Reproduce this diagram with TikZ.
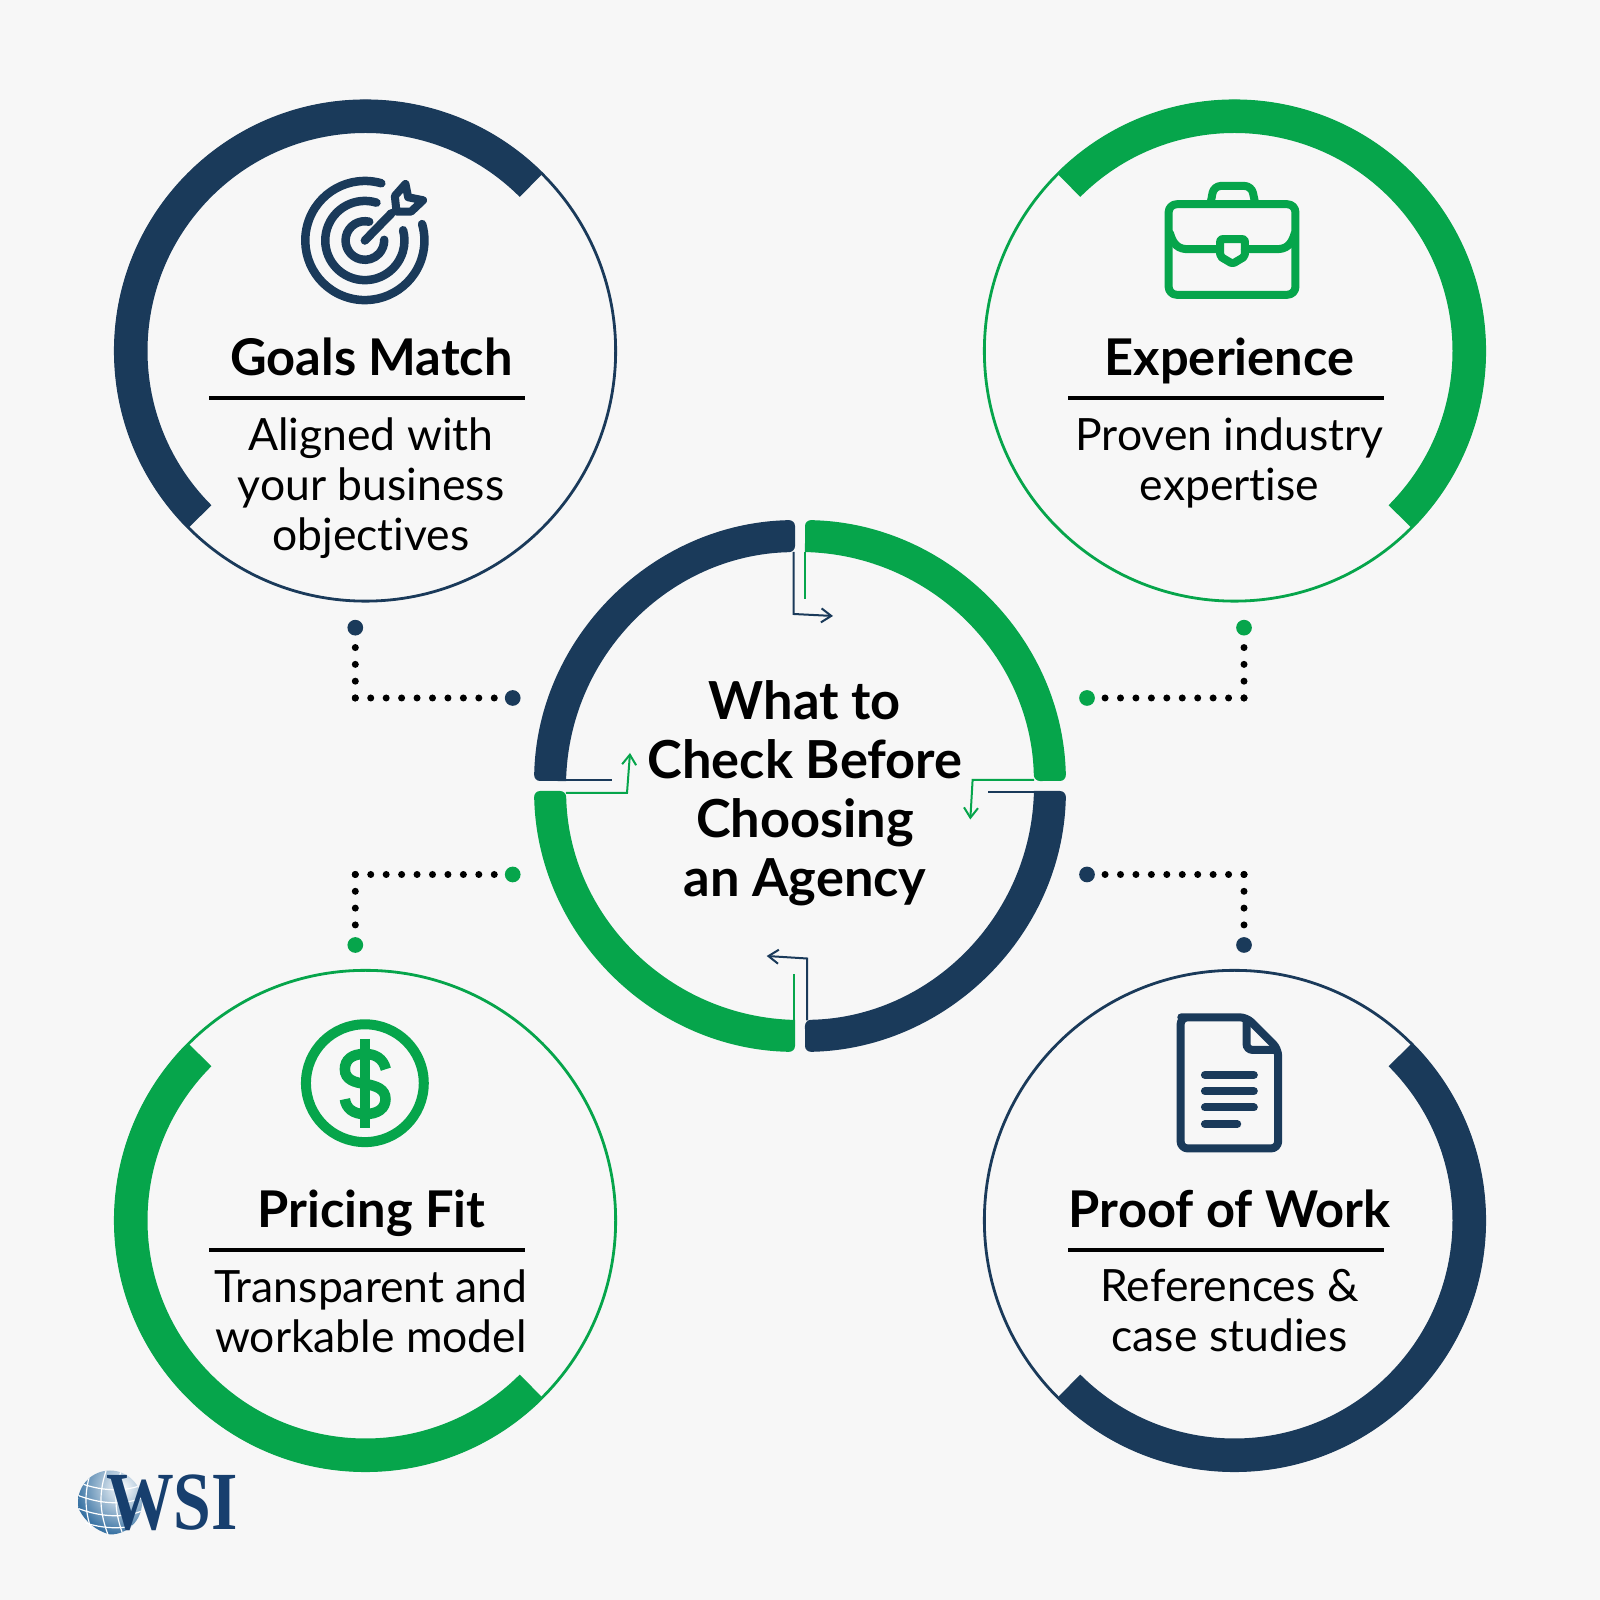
\documentclass[tikz,border=0pt]{standalone}
\usepackage{fontspec}
\setmainfont[Ligatures=NoCommon]{Lato}
\newfontfamily\logofont{Liberation Serif}
\usetikzlibrary{arrows.meta}
\definecolor{navy}{RGB}{26,58,90}
\definecolor{leaf}{RGB}{6,165,75}
\definecolor{paper}{RGB}{247,247,247}
\definecolor{globe}{RGB}{50,110,160}
\definecolor{logoblue}{RGB}{23,63,110}
\begin{document}
\begin{tikzpicture}[x=0.01cm, y=0.01cm]

\fill[paper, use as bounding box] (0,0) rectangle (1600,1600);

%% setup styles
\tikzstyle{ring}=[circle,minimum size=5cm,inner sep=0pt,line width=0.028cm,fill=none]
\tikzstyle{title}=[font=\fontsize{14.4}{18}\selectfont\bfseries,text=black,anchor=base]
\tikzstyle{desc}=[font=\fontsize{12.65}{14.26}\selectfont,text=black,align=center,anchor=north]
\tikzstyle{headline}=[font=\fontsize{14.9}{16.8}\selectfont\bfseries,text=black,align=center]
\tikzstyle{dot}=[circle,minimum size=0.157cm,inner sep=0pt]
\tikzstyle{dotv}=[line width=0.07cm,line cap=round,dash pattern=on 0pt off 0.168cm,black]
\tikzstyle{doth}=[line width=0.07cm,line cap=round,dash pattern=on 0pt off 0.1543cm,black]
\tikzstyle{flow}=[line width=0.02cm,-{Straight Barb[length=0.1cm,width=0.14cm]}]
\tikzstyle{stub}=[line width=0.02cm]
\tikzstyle{icon}=[line width=0.08cm,line cap=round,line join=round]

%% coordinate grid
\def\xleft{365.5}
\def\xright{1234.5}
\def\ytop{1249}
\def\ybot{379.5}
\def\rthick{234.5}

% Draw the four outer rings
\foreach \name/\cx/\cy/\col/\angA/\angB in {goals/\xleft/\ytop/navy/45/225,
exper/\xright/\ytop/leaf/135/-45,
price/\xleft/\ybot/leaf/135/315,
proof/\xright/\ybot/navy/225/405}{
\node[ring,draw=\col] (\name) at (\cx,\cy) {};
\draw[\col,line width=0.33cm] (\cx,\cy) ++(\angA:\rthick) arc[start angle=\angA,end angle=\angB,radius=\rthick];
}

% Draw the centre ring
\foreach \col/\rot in {navy/0,leaf/-90,navy/180,leaf/90}{
\begin{scope}[shift={(800,814)},rotate=\rot]
\fill[\col] (178.78:234) {[rounded corners=0.06cm] -- (178.92:266) arc[start angle=178.92,end angle=91.08,radius=266] -- (91.22:234)} arc[start angle=91.22,end angle=178.78,radius=234];
\end{scope}
}

% Titles and texts of the rings
\foreach \name/\x/\y/\txt in {t-goals/371.5/1224.7/Goals Match,
t-exper/1229.5/1224.7/Experience,
t-price/371.5/372/Pricing Fit,
t-proof/1229.5/372/Proof of Work}{
\node[title] (\name) at (\x,\y) {\txt};
}
\foreach \name/\x/\y/\txt in {d-goals/371/1195/{Aligned with\\your business\\objectives},
d-exper/1229.5/1195/{Proven industry\\expertise},
d-price/371/343/{Transparent and\\workable model},
d-proof/1229.5/343/{References \&\\case studies}}{
\node[desc] (\name) at (\x,\y) {\txt};
}
\foreach \name/\xa/\xb/\y in {goals/209.3/525/1202,exper/1068/1384/1202,price/209.3/525/350,proof/1068/1384/350}{
\coordinate (r-\name-a) at (\xa,\y);
\coordinate (r-\name-b) at (\xb,\y);
\draw[line width=0.04cm,black] (r-\name-a) -- (r-\name-b);
}

% Centre text
\node[headline] (head) at (805,807) {What to\\Check Before\\Choosing\\an Agency};

% Dotted links
\foreach \name/\xa/\ya/\xb/\yb/\yc/\col in {goals/355.3/972.3/512.7/902/902/navy,
exper/1244/972.3/1087/902/902/leaf,
price/355.3/655/512.7/725.5/725.5/leaf,
proof/1244/655/1087/725.5/725.5/navy}{
\node[dot,fill=\col] (\name-a) at (\xa,\ya) {};
\node[dot,fill=\col] (\name-b) at (\xb,\yb) {};
\coordinate (\name-c) at (\xa,\yc);
\draw[dotv] (\name-c) -- (\name-a);
\draw[doth] (\name-c) -- (\name-b);
}

% Elbow arrows of the centre ring
\foreach \name/\x/\y in {na/793.5/1048,nb/793.5/986,nc/833/984,
ga/565.8/807,gb/627/807,gc/630/847,
ka/1034/820,kb/972.6/820,kc/970.3/780.5,
ma/807/579.5,mb/807/641.5,mc/766.7/644,
s1/805.4/1048,s2/805.4/1001,
s3/566/819.5,s4/612/819.5,
s5/1034/808,s6/988/808,
s7/794.3/579.5,s8/794.3/625.5}{
\coordinate (\name) at (\x,\y);
}
\draw[flow,navy] (na) -- (nb) -- (nc);
\draw[flow,leaf] (ga) -- (gb) -- (gc);
\draw[flow,leaf] (ka) -- (kb) -- (kc);
\draw[flow,navy] (ma) -- (mb) -- (mc);
\draw[stub,leaf] (s1) -- (s2);
\draw[stub,navy] (s3) -- (s4);
\draw[stub,navy] (s5) -- (s6);
\draw[stub,leaf] (s7) -- (s8);

%% target icon
\begin{scope}[shift={(280,1440)},x=0.003333cm,y=-0.003333cm]
\draw[icon,navy,line width=0.085cm] (255,242) ++(-74:179) arc[start angle=-74,end angle=-376,radius=179];
\draw[icon,navy,line width=0.085cm] (255,242) ++(-73:119) arc[start angle=-73,end angle=-375,radius=119];
\draw[icon,navy,line width=0.085cm] (255,242) ++(-77:58) arc[start angle=-77,end angle=-362,radius=58];
\draw[icon,navy,line width=0.085cm] (255,242) -- (335,160);
\draw[navy,line width=0.08cm,line join=round] (377,72) -- (385,112) -- (430,121) -- (394,155) -- (350,155) -- (345,108) -- cycle;
\end{scope}

%% briefcase icon
\begin{scope}[shift={(1140,1440)},x=0.003333cm,y=-0.003333cm]
\draw[icon,leaf,rounded corners=0.08cm] (86,133) rectangle (467,405);
\draw[icon,leaf,rounded corners=0.07cm] (213,125) -- (222,78) -- (335,78) -- (345,125);
\draw[icon,leaf] (90,220) .. controls (100,255) and (115,268) .. (145,268) -- (240,268);
\draw[icon,leaf] (315,268) -- (410,268) .. controls (440,268) and (455,255) .. (465,220);
\draw[icon,leaf,rounded corners=0.02cm] (241,238) -- (315,238) -- (315,290) -- (278,312) -- (241,290) -- cycle;
\end{scope}

%% dollar icon
\begin{scope}[shift={(280,600)},x=0.003333cm,y=-0.003333cm]
\draw[leaf,line width=0.1cm] (255,250) circle (177);
\draw[leaf,line width=0.095cm] (255,117) -- (255,385);
\draw[leaf,line width=0.105cm] (318,208) .. controls (310,175) and (285,162) .. (255,162) .. controls (215,162) and (195,180) .. (195,208) .. controls (195,240) and (225,248) .. (255,252) .. controls (290,258) and (317,268) .. (317,298) .. controls (317,325) and (295,343) .. (255,343) .. controls (220,343) and (198,325) .. (195,298);
\end{scope}

%% document icon
\begin{scope}[shift={(1150,600)},x=0.003333cm,y=-0.003333cm]
\draw[navy,line width=0.08cm,line join=round,rounded corners=0.07cm] (290,52) -- (115,52) -- (92,52) -- (92,446) -- (385,446) -- (385,147) -- cycle;
\draw[navy,line width=0.08cm,rounded corners=0.06cm] (290,52) -- (290,150) -- (385,150);
\foreach \y/\xe in {225/312,274/312,323/312,373/262}{
\draw[navy,line width=0.08cm,line cap=round] (165,\y) -- (\xe,\y);
}
\end{scope}

%% logo
\begin{scope}
\clip (110,97.5) circle (32);
\shade[inner color=white,outer color=globe] (122,112) circle (48);
\foreach \y in {75,87,100,113}{
\draw[white,line width=0.012cm] (70,\y+8) .. controls (100,\y-6) and (130,\y-6) .. (150,\y+6);
}
\foreach \x in {95,110,125}{
\draw[white,line width=0.012cm] (\x,140) .. controls (\x-12,110) and (\x-12,90) .. (\x,60);
}
\end{scope}
\node[font=\logofont\bfseries\fontsize{23.5}{24}\selectfont,text=logoblue,inner sep=0pt,xscale=0.82] (logo) at (172,97.5) {WSI};

\end{tikzpicture}
\end{document}
